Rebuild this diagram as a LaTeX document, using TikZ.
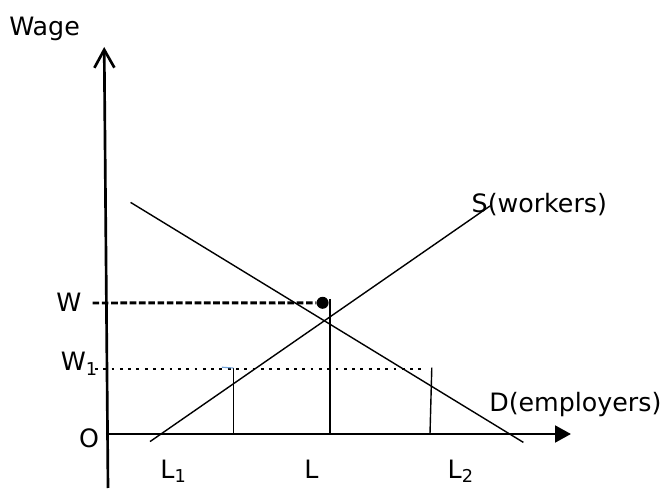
\documentclass[tikz,border=0pt]{standalone}
\usepackage{fontspec}
\setmainfont{DejaVu Sans}
\usetikzlibrary{positioning,arrows.meta}

\definecolor{tickblue}{RGB}{110,160,215}

\begin{document}
\begin{tikzpicture}[
    every node/.style={font=\fontsize{18}{22}\selectfont, inner sep=0pt},
    axis/.style={line width=1.9pt},
    curve/.style={line width=1pt},
    wageline/.style={line width=2.1pt, dash pattern=on 4.7pt off 1.9pt},
    minline/.style={line width=2pt, dash pattern=on 2pt off 3.9pt}
]
\useasboundingbox (-2.675,-1.35) rectangle (14.025,10.85);

% axes
\coordinate (o) at (-0.025,0);
\coordinate (xend) at (11.6,0);
\coordinate (ybot) at (0.025,-1.35);
\coordinate (yend) at (-0.07,9.675);

\draw[axis,-{Straight Barb[length=0.45cm,width=0.5cm]}] (ybot) -- (yend);
\draw[axis,-{Triangle[length=0.4cm,width=0.42cm]}] (o) -- (xend);

% supply and demand
\coordinate (s1) at (1.075,-0.19);
\coordinate (s2) at (9.575,5.7);
\coordinate (d1) at (0.59,5.79);
\coordinate (d2) at (10.41,-0.21);

\draw[curve] (s1) -- (s2);
\draw[curve] (d1) -- (d2);

% wage levels
\node (dot) [circle, fill, minimum size=0.3cm] at (5.39,3.28) {};
\coordinate (wa) at (-0.36,3.275);
\coordinate (wb) at (-0.3,1.625);
\coordinate (wc) at (7.9,1.625);

\draw[wageline] (wa) -- (dot);
\draw[minline] (wb) -- (wc);

% employment levels
\coordinate (l1top) at (3.16,1.65);
\coordinate (l1bot) at (3.16,0);
\coordinate (ltop) at (5.575,3.375);
\coordinate (lbot) at (5.575,0);
\coordinate (l2top) at (8.12,1.66);
\coordinate (l2bot) at (8.075,0);

\draw[curve] (l1top) -- (l1bot);
\draw[curve] (ltop) -- (lbot);
\draw[curve] (l2top) -- (l2bot);
\draw[tickblue, line width=0.8pt] (2.87,1.67) -- (l1top);

% labels
\node (wage) [anchor=base west] at (-2.45,9.95) {Wage};
\node (w) [anchor=base west] at (-1.275,3.06) {W};
\node (w1) [anchor=base west] at (-1.16,1.58) {W\textsubscript{1}};
\node (olab) [anchor=base] at (-0.45,-0.325) {O};
\node (l1) [anchor=base west] at (1.33,-1.1) {L\textsubscript{1}};
\node (l) [anchor=base west] at (4.925,-1.1) {L};
\node (l2) [anchor=base west] at (8.51,-1.1) {L\textsubscript{2}};
\node (supply) [anchor=base west] at (9.11,5.525) {S(workers)};
\node (demand) [anchor=base west] at (9.55,0.56) {D(employers)};

\end{tikzpicture}
\end{document}
